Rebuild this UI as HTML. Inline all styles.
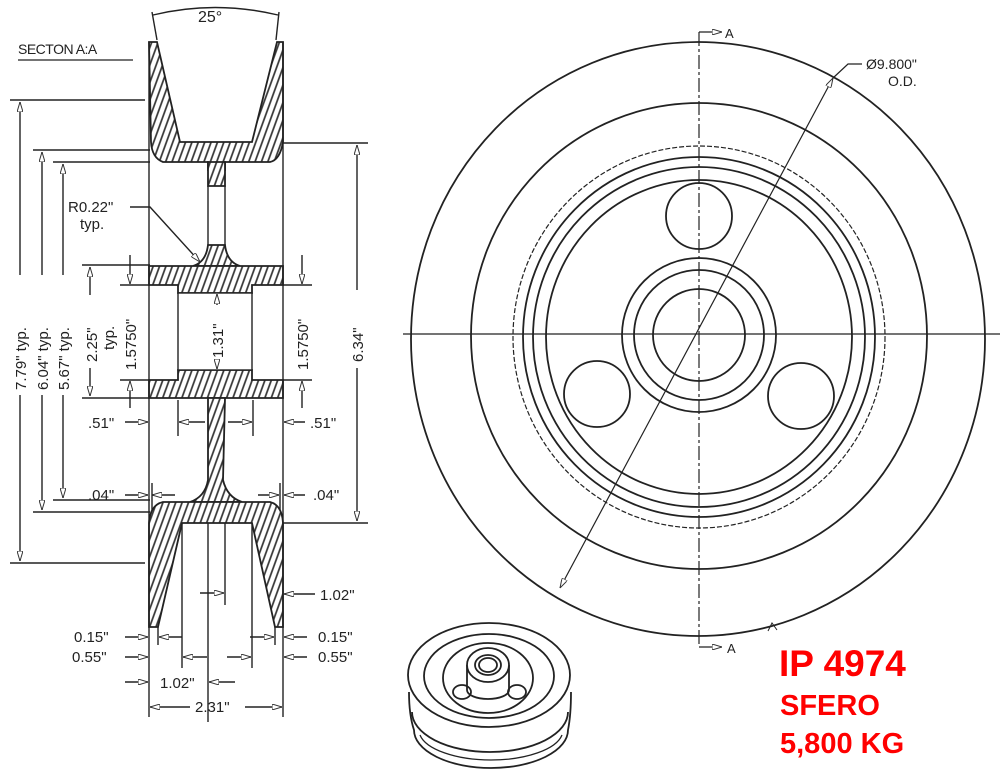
<!DOCTYPE html>
<html><head><meta charset="utf-8"><style>
html,body{margin:0;padding:0;background:#fff}
svg{display:block}
text{font-family:"Liberation Sans",sans-serif;fill:#222}
</style></head><body>
<svg width="1000" height="775" viewBox="0 0 1000 775" xmlns="http://www.w3.org/2000/svg">
<defs>
<pattern id="h" width="6" height="6" patternUnits="userSpaceOnUse" patternTransform="rotate(20)">
<rect width="6" height="6" fill="#fff"/><line x1="1" y1="0" x2="1" y2="6" stroke="#333" stroke-width="1.7"/>
</pattern>
<marker id="ar" viewBox="0 0 10 6" refX="10" refY="3" markerWidth="10" markerHeight="6" orient="auto-start-reverse" markerUnits="userSpaceOnUse">
<path d="M0,0 L10,3 L0,6 z" fill="#fff" stroke="#333" stroke-width="1"/></marker>
</defs>

<!-- ===== SECTION A:A ===== -->
<g stroke="#222" stroke-width="1.8" fill="url(#h)">
<path d="M149,42 L157,42 L180,142 L252,142 L277,42 L283,42 L283,142 Q280,160 270,162 L225,162 L225,170 L208,170 L208,162 L163,162 Q152,158 151,142 Z"/>
<path d="M208,162 L225,162 L225,186 L208,186 Z"/>
<path d="M193,266 Q206,262 208,245 L225,245 Q227,262 240,266 Z"/>
<path d="M149,266 L283,266 L283,285 L252,285 L252,293 L178,293 L178,285 L149,285 Z"/>
<path d="M178,370 L252,370 L252,380 L283,380 L283,398 L149,398 L149,380 L178,380 Z"/>
<path d="M208,398 L225,398 L223,480 Q227,497 242,502 L190,502 Q205,497 208,480 Z"/>
<path d="M163,502 L270,502 Q282,505 283,523 L283,627 L275,627 L252,523 L182,523 L158,627 L149,627 L149,523 Q150,505 163,502 Z"/>
</g>
<g stroke="#222" stroke-width="1.4" fill="none">
<line x1="149" y1="42" x2="149" y2="717"/><line x1="283" y1="42" x2="283" y2="717"/>
<rect x="178" y="293" width="74" height="77" fill="#fff"/>
<line x1="208" y1="186" x2="208" y2="245"/><line x1="225" y1="186" x2="225" y2="245"/>
<line x1="10" y1="100" x2="145" y2="100"/>
<line x1="33" y1="150" x2="150" y2="150"/>
<line x1="53" y1="162" x2="150" y2="162"/>
<line x1="283" y1="143" x2="368" y2="143"/>
<line x1="82" y1="265" x2="150" y2="265"/>
<line x1="120" y1="285" x2="150" y2="285"/>
<line x1="120" y1="380" x2="150" y2="380"/>
<line x1="82" y1="398" x2="150" y2="398"/>
<line x1="283" y1="285" x2="312" y2="285"/>
<line x1="283" y1="380" x2="312" y2="380"/>
<line x1="53" y1="500" x2="150" y2="500"/>
<line x1="33" y1="512" x2="150" y2="512"/>
<line x1="10" y1="563" x2="145" y2="563"/>
<line x1="283" y1="523" x2="368" y2="523"/>
<line x1="20" y1="102" x2="20" y2="275" marker-start="url(#ar)"/><line x1="20" y1="395" x2="20" y2="561" marker-end="url(#ar)"/>
<line x1="42" y1="152" x2="42" y2="275" marker-start="url(#ar)"/><line x1="42" y1="395" x2="42" y2="510" marker-end="url(#ar)"/>
<line x1="63" y1="164" x2="63" y2="275" marker-start="url(#ar)"/><line x1="63" y1="395" x2="63" y2="498" marker-end="url(#ar)"/>
<line x1="90" y1="267" x2="90" y2="295" marker-start="url(#ar)"/><line x1="90" y1="368" x2="90" y2="396" marker-end="url(#ar)"/>
<line x1="130" y1="255" x2="130" y2="284" marker-end="url(#ar)"/><line x1="130" y1="408" x2="130" y2="381" marker-end="url(#ar)"/>
<line x1="302" y1="255" x2="302" y2="284" marker-end="url(#ar)"/><line x1="302" y1="408" x2="302" y2="381" marker-end="url(#ar)"/>
<line x1="217" y1="305" x2="217" y2="294" marker-end="url(#ar)"/><line x1="217" y1="360" x2="217" y2="369" marker-end="url(#ar)"/>
<line x1="357" y1="145" x2="357" y2="290" marker-start="url(#ar)"/><line x1="357" y1="368" x2="357" y2="521" marker-end="url(#ar)"/>
<path d="M153,15 Q215,0 278,15"/>
<line x1="152" y1="12" x2="157" y2="40"/><line x1="279" y1="12" x2="276" y2="40"/>
<line x1="125" y1="422" x2="148" y2="422" marker-end="url(#ar)"/>
<line x1="305" y1="422" x2="284" y2="422" marker-end="url(#ar)"/>
<line x1="178" y1="400" x2="178" y2="436"/><line x1="253" y1="400" x2="253" y2="436"/>
<line x1="205" y1="422" x2="179" y2="422" marker-end="url(#ar)"/>
<line x1="228" y1="422" x2="252" y2="422" marker-end="url(#ar)"/>
<line x1="125" y1="495" x2="148" y2="495" marker-end="url(#ar)"/>
<line x1="175" y1="495" x2="152" y2="495" marker-end="url(#ar)"/>
<line x1="152" y1="483" x2="152" y2="510"/><line x1="280" y1="483" x2="280" y2="510"/>
<line x1="305" y1="495" x2="284" y2="495" marker-end="url(#ar)"/>
<line x1="258" y1="495" x2="279" y2="495" marker-end="url(#ar)"/>
<line x1="315" y1="594" x2="284" y2="594" marker-end="url(#ar)"/>
<line x1="208" y1="523" x2="208" y2="722"/><line x1="225" y1="523" x2="225" y2="605"/>
<line x1="200" y1="593" x2="224" y2="593" marker-end="url(#ar)"/>
<line x1="158" y1="627" x2="158" y2="645"/><line x1="275" y1="627" x2="275" y2="645"/>
<line x1="182" y1="523" x2="182" y2="668"/><line x1="252" y1="523" x2="252" y2="668"/>
<line x1="125" y1="637" x2="148" y2="637" marker-end="url(#ar)"/>
<line x1="182" y1="637" x2="159" y2="637" marker-end="url(#ar)"/>
<line x1="250" y1="637" x2="274" y2="637" marker-end="url(#ar)"/>
<line x1="307" y1="637" x2="284" y2="637" marker-end="url(#ar)"/>
<line x1="125" y1="657" x2="148" y2="657" marker-end="url(#ar)"/>
<line x1="207" y1="657" x2="183" y2="657" marker-end="url(#ar)"/>
<line x1="227" y1="657" x2="251" y2="657" marker-end="url(#ar)"/>
<line x1="307" y1="657" x2="284" y2="657" marker-end="url(#ar)"/>
<line x1="125" y1="682" x2="148" y2="682" marker-end="url(#ar)"/>
<line x1="235" y1="682" x2="209" y2="682" marker-end="url(#ar)"/>
<line x1="190" y1="707" x2="150" y2="707" marker-end="url(#ar)"/>
<line x1="245" y1="707" x2="282" y2="707" marker-end="url(#ar)"/>
<polyline points="130,207 150,207 200,262" marker-end="url(#ar)"/>
</g>
<g font-size="15">
<text x="18" y="54" font-size="14" letter-spacing="-0.5">SECTON  A:A</text>
<line x1="18" y1="60" x2="133" y2="60" stroke="#222" stroke-width="1.2"/>
<text x="198" y="22" font-size="16">25°</text>
<text x="68" y="212">R0.22"</text>
<text x="80" y="229">typ.</text>
<text transform="translate(26,390) rotate(-90)">7.79"  typ.</text>
<text transform="translate(48,390) rotate(-90)">6.04"  typ.</text>
<text transform="translate(69,390) rotate(-90)">5.67"  typ.</text>
<text transform="translate(97,362) rotate(-90)">2.25"</text>
<text transform="translate(114,350) rotate(-90)">typ.</text>
<text transform="translate(136,370) rotate(-90)">1.5750"</text>
<text transform="translate(223,358) rotate(-90)">1.31"</text>
<text transform="translate(308,370) rotate(-90)">1.5750"</text>
<text transform="translate(363,362) rotate(-90)">6.34"</text>
<text x="88" y="428">.51"</text>
<text x="310" y="428">.51"</text>
<text x="88" y="500">.04"</text>
<text x="313" y="500">.04"</text>
<text x="320" y="600">1.02"</text>
<text x="74" y="642">0.15"</text>
<text x="72" y="662">0.55"</text>
<text x="318" y="642">0.15"</text>
<text x="318" y="662">0.55"</text>
<text x="160" y="688">1.02"</text>
<text x="195" y="712">2.31"</text>
</g>

<!-- ===== FRONT VIEW ===== -->
<g stroke="#222" stroke-width="1.8" fill="none">
<ellipse cx="698" cy="339" rx="287" ry="297"/>
<ellipse cx="699" cy="336" rx="228" ry="233"/>
<ellipse cx="699" cy="337" rx="186" ry="191" stroke-dasharray="5,2" stroke-width="1.2"/>
<ellipse cx="699" cy="337" rx="176" ry="180"/>
<ellipse cx="699" cy="337" rx="166" ry="170"/>
<ellipse cx="699" cy="337" rx="153" ry="157"/>
<circle cx="699" cy="335" r="77"/>
<circle cx="699" cy="335" r="65"/>
<circle cx="699" cy="335" r="46"/>
<circle cx="699" cy="216" r="33"/>
<circle cx="597" cy="394" r="33"/>
<circle cx="801" cy="396" r="33"/>
<line x1="403" y1="334" x2="1000" y2="334" stroke-width="1.3"/>
<line x1="699" y1="32" x2="699" y2="647" stroke-width="1.2" stroke-dasharray="14,3,3,3"/>
<line x1="833" y1="78" x2="560" y2="588" stroke-width="1.2" marker-start="url(#ar)" marker-end="url(#ar)"/>
<polyline points="833,78 848,64 862,64" stroke-width="1.2"/>
<polyline points="699,32 722,32" stroke-width="1.2" marker-end="url(#ar)"/>
<polyline points="699,647 722,647" stroke-width="1.2" marker-end="url(#ar)"/>
<polyline points="768,631 772,623 777,630" stroke-width="1"/>
</g>
<text x="725" y="38" font-size="13">A</text>
<text x="727" y="653" font-size="13">A</text>
<text x="866" y="69" font-size="14">Ø9.800"</text>
<text x="888" y="86" font-size="14">O.D.</text>

<!-- ===== 3D VIEW ===== -->
<g stroke="#222" stroke-width="1.8" fill="none">
<path d="M409,692 Q409,715 414,730 A77 38 0 0 0 568,730 Q571,715 571,692"/>
<path d="M412,712 A78 40 0 0 0 568,712"/>
<path d="M420,735 A72 30 0 0 0 562,735" stroke-width="1.3"/>
<ellipse cx="489" cy="675" rx="81" ry="52" fill="#fff"/>
<ellipse cx="489" cy="676" rx="65" ry="42"/>
<ellipse cx="488" cy="678" rx="45" ry="35"/>
<ellipse cx="462" cy="692" rx="9" ry="7"/>
<ellipse cx="517" cy="692" rx="9" ry="7"/>
<path d="M467,665 L467,690 A21 9 0 0 0 509,690 L509,665"/>
<ellipse cx="488" cy="665" rx="21" ry="17" fill="#fff"/>
<ellipse cx="488" cy="665" rx="13" ry="10"/>
<ellipse cx="488" cy="665" rx="9" ry="7"/>
</g>

<!-- red labels -->
<g font-family="Liberation Sans" font-weight="bold">
<text x="779" y="676" font-size="37" style="fill:#ff0000">IP 4974</text>
<text x="780" y="715" font-size="29" style="fill:#ff0000">SFERO</text>
<text x="780" y="753" font-size="29" style="fill:#ff0000">5,800 KG</text>
</g>
</svg>
</body></html>
